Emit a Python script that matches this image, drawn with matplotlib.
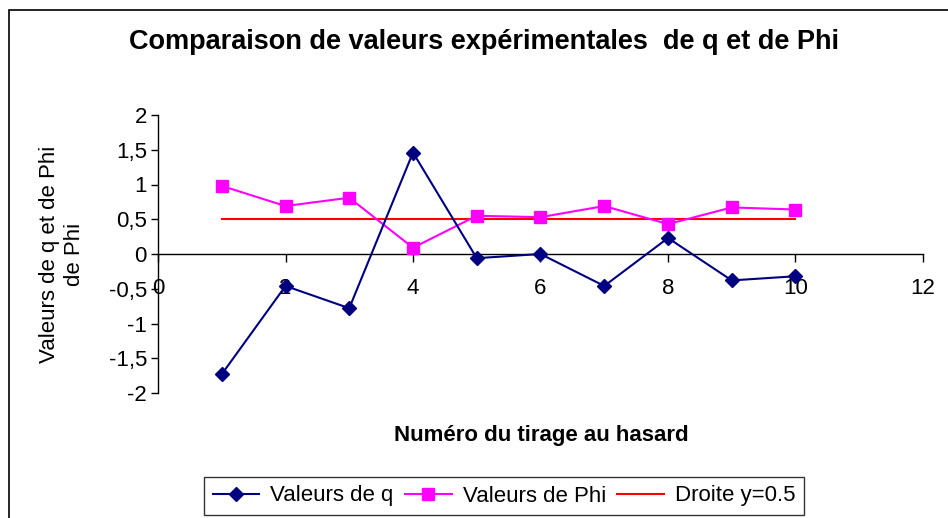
import matplotlib
matplotlib.use("Agg")
import matplotlib.pyplot as plt
from matplotlib.patches import Rectangle
from matplotlib.ticker import FuncFormatter

plt.rcParams['font.family'] = ['Liberation Sans', 'DejaVu Sans']

tirages = [1, 2, 3, 4, 5, 6, 7, 8, 9, 10]
valeurs_q = [-1.73, -0.46, -0.78, 1.46, -0.06, 0.0, -0.46, 0.23, -0.38, -0.32]
valeurs_phi = [0.98, 0.69, 0.81, 0.09, 0.55, 0.53, 0.69, 0.43, 0.67, 0.64]
droite = [0.5] * 10
x_ticks = [0, 2, 4, 6, 8, 10, 12]
y_ticks = [-2, -1.5, -1, -0.5, 0, 0.5, 1, 1.5, 2]

fig = plt.figure(figsize=(9.48, 5.18), dpi=100)
W, H = 948, 518
# outer chart frame
fig.patches.append(Rectangle((9 / W, -0.05), 1.1, 1 - 10 / H + 0.05, transform=fig.transFigure,
                             fill=False, edgecolor='black', linewidth=1.2))

ax = fig.add_axes([158 / W, 1 - 393 / H, (923 - 158) / W, (393 - 115) / H])
ax.plot(tirages, valeurs_q, color='#000080', marker='D', markersize=7.5, linewidth=1.5,
        label='Valeurs de q', zorder=4)
ax.plot(tirages, valeurs_phi, color='#FF00FF', marker='s', markersize=8.5, linewidth=1.5,
        label='Valeurs de Phi', zorder=3)
ax.plot(tirages, droite, color='#FF0000', linewidth=1.5, label='Droite y=0.5', zorder=2)

ax.set_xlim(0, 12)
ax.set_ylim(-2, 2)
ax.set_xticks(x_ticks)
ax.set_yticks(y_ticks)
ax.yaxis.set_major_formatter(FuncFormatter(lambda v, p: ('%g' % v).replace('.', ',')))
ax.spines['top'].set_visible(False)
ax.spines['right'].set_visible(False)
ax.spines['bottom'].set_position(('data', 0))
ax.spines['left'].set_color('#000000')
ax.spines['left'].set_linewidth(1.0)
ax.spines['bottom'].set_linewidth(1.0)
ax.tick_params(axis='y', direction='out', length=5, width=1, labelsize=16, pad=3)
ax.tick_params(axis='x', direction='out', length=6, width=1, labelsize=16, pad=11)
ax.set_facecolor('white')

fig.text(484 / W, 1 - 42 / H, 'Comparaison de valeurs expérimentales  de q et de Phi',
         ha='center', va='center', fontsize=19.5, fontweight='bold')
fig.text(541 / W, 1 - 435 / H, 'Numéro du tirage au hasard', ha='center', va='center',
         fontsize=16, fontweight='bold')
fig.text(62 / W, 1 - 254 / H, 'Valeurs de q et de Phi\nde Phi', ha='center', va='center',
         rotation=90, fontsize=16, linespacing=1.2, multialignment='center')

leg = fig.legend(loc='center', bbox_to_anchor=(504 / W, 1 - 496 / H), ncol=3,
                 fontsize=16, frameon=True, fancybox=False, edgecolor='black',
                 handlelength=2.1, handletextpad=0.5, columnspacing=0.5,
                 borderpad=0.4, borderaxespad=0)
leg.get_frame().set_linewidth(1.0)

fig.savefig('out.png', dpi=100, facecolor='white')
